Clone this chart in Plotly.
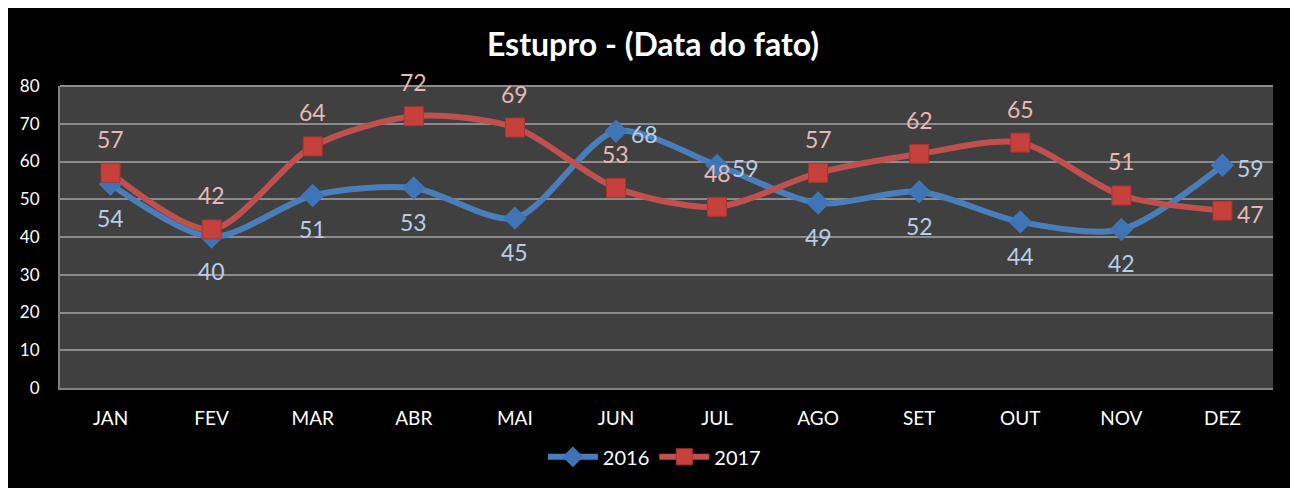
import plotly.graph_objects as go

months = ["JAN", "FEV", "MAR", "ABR", "MAI", "JUN", "JUL", "AGO", "SET", "OUT", "NOV", "DEZ"]
v2016 = [54, 40, 51, 53, 45, 68, 59, 49, 52, 44, 42, 59]
v2017 = [57, 42, 64, 72, 69, 53, 48, 57, 62, 65, 51, 47]
pos2016 = ["below"] * 5 + ["right", "right"] + ["below"] * 4 + ["right"]
pos2017 = ["above"] * 11 + ["right"]
y_ticks = [0, 10, 20, 30, 40, 50, 60, 70, 80]

BLUE = "#4a7ebb"
RED = "#c0504d"
FONT = "Lato, Open Sans, sans-serif"

fig = go.Figure()
fig.add_trace(go.Scatter(
    x=months, y=v2016, name="2016", mode="lines+markers",
    line=dict(color=BLUE, width=6, shape="spline", smoothing=0.8),
    marker=dict(symbol="diamond", size=18, color="#3f74b6"),
))
fig.add_trace(go.Scatter(
    x=months, y=v2017, name="2017", mode="lines+markers",
    line=dict(color=RED, width=6, shape="spline", smoothing=0.8),
    marker=dict(symbol="square", size=19, color="#c6403c",
                line=dict(color="#a83532", width=1)),
))

annotations = []
for vals, poss, col in ((v2016, pos2016, "#b9cde5"), (v2017, pos2017, "#e6b9b8")):
    for m, v, p in zip(months, vals, poss):
        a = dict(x=m, y=v, text=str(v), showarrow=False,
                 font=dict(family=FONT, size=23, color=col))
        if p == "below":
            a.update(yshift=-34, xanchor="center", yanchor="middle")
        elif p == "above":
            a.update(yshift=34, xanchor="center", yanchor="middle")
        else:
            a.update(xshift=13, yshift=-3, xanchor="left", yanchor="middle")
        annotations.append(a)

# white page strip at the right edge of the black chart frame
shapes = [
    dict(type="rect", xref="paper", yref="paper", x0=1.0164, x1=1.06, y0=-0.5, y1=1.5,
         fillcolor="white", line=dict(width=0), layer="above"),
    dict(type="line", xref="paper", yref="paper", x0=0, x1=1, y0=1, y1=1,
         line=dict(color="#8c8c8c", width=2)),
]

fig.update_layout(
    width=1290, height=480,
    margin=dict(l=49, r=25, t=78, b=99),
    paper_bgcolor="black", plot_bgcolor="#404040",
    title=dict(text="<b>Estupro - (Data do fato)</b>", x=0.5, xanchor="center",
               y=1 - 37 / 480, yanchor="middle",
               font=dict(family=FONT, size=32, color="white")),
    font=dict(family=FONT, color="white", size=16),
    xaxis=dict(type="category", range=[-0.5, 11.5], showgrid=False,
               showline=True, linecolor="#808080", linewidth=2,
               ticks="", tickfont=dict(size=19, color="white"), ticklabelstandoff=12),
    yaxis=dict(range=[0, 80], tickvals=y_ticks, showgrid=True, gridcolor="#8c8c8c",
               gridwidth=1.5, zeroline=False, showline=True, linecolor="#808080",
               linewidth=2, ticks="", tickfont=dict(size=17, color="white"),
               ticklabelstandoff=15),
    legend=dict(orientation="h", x=0.49, xanchor="center", y=-0.228, yanchor="middle",
                font=dict(size=20, color="white"), bgcolor="rgba(0,0,0,0)",
                itemwidth=50),
    annotations=annotations,
    shapes=shapes,
    showlegend=True,
)

fig.write_html("out.html")
